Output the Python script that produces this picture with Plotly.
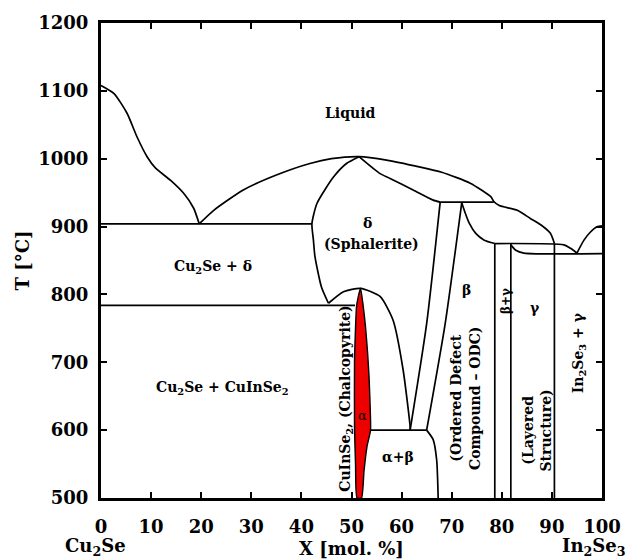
import plotly.graph_objects as go

# Cu2Se - In2Se3 pseudo-binary phase diagram
# X = mol. % In2Se3, T = temperature in deg C, read along each phase boundary

liq_cu2se_x = [0, 2.6, 5.2, 7.2, 9.2, 10.9, 13.9, 16.5, 18.5, 19.6]
liq_cu2se_t = [1108, 1096, 1067, 1032, 1003, 986, 968, 949, 927, 904]

liq_delta_x = [19.6, 22.5, 28.4, 35.0, 41.7, 46.0, 51.5, 57.0, 63.5, 68.0, 73.7, 77.8, 78.4, 79.5, 83.1, 85.7, 87.7, 89.7, 90.5]
liq_delta_t = [904, 924, 954, 976, 993, 1000, 1003, 998, 988, 980, 964, 944, 937, 931, 924, 912, 903, 890, 875]

delta_left_x = [51.5, 49.0, 46.4, 43.1, 42.1, 42.4, 42.7, 44.0, 45.4]
delta_left_t = [1003, 993, 973, 934, 904, 880, 856, 811, 787]

delta_right_x = [51.5, 55.7, 57.7, 62.3, 66.3, 67.7]
delta_right_t = [1003, 978, 971, 954, 939, 936]

eutectic_x = [0, 42.1]
eutectic_t = [904, 904]

eutectoid_x = [0, 50.7]
eutectoid_t = [784, 784]

alpha_dome_x = [45.4, 48.4, 51.8, 55.7, 58.3, 60.3, 61.7, 61.7]
alpha_dome_t = [787, 804, 809, 797, 762, 689, 605, 600]

delta_beta_x = [67.7, 65.0, 61.7]
delta_beta_t = [936, 757, 600]

beta_left_x = [72.0, 68.7, 65.0]
beta_left_t = [935, 757, 600]

beta_low_x = [65.0, 66.3, 67.0, 67.3]
beta_low_t = [600, 586, 556, 500]

alpha_beta_top_x = [53.7, 65.0]
alpha_beta_top_t = [600, 600]

peritectic_x = [67.7, 78.4]
peritectic_t = [936, 936]

beta_right_x = [72.0, 72.6, 73.5, 74.8, 76.5, 78.6]
beta_right_t = [935, 922, 905, 890, 880, 875]

line_875_x = [78.6, 92.4, 93.7, 95.0]
line_875_t = [875, 873, 868, 861]

liq_in2se3_x = [95.0, 96.4, 97.7, 99.0, 100]
liq_in2se3_t = [861, 880, 892, 899.6, 901]

line_860_x = [81.8, 82.8, 84.4, 100]
line_860_t = [873, 865, 861, 860]

vertical_x = [78.6, 81.8, 90.5]
vertical_top = 875
vertical_bottom = 500

# chalcopyrite (alpha) single-phase field
alpha_left_x = [51.8, 51.3, 51.0, 50.8, 50.6, 50.6, 50.8, 51.1]
alpha_left_t = [809, 795, 782, 750, 703, 605, 550, 500]
alpha_right_x = [52.0, 52.5, 53.1, 53.8, 53.7, 53.5, 53.2, 52.8, 52.3, 51.8]
alpha_right_t = [500, 540, 576, 600, 640, 679, 715, 752, 785, 809]

x_ticks = [0, 10, 20, 30, 40, 50, 60, 70, 80, 90, 100]
y_ticks = [500, 600, 700, 800, 900, 1000, 1100, 1200]

FONT = "DejaVu Serif"
LW = 1.7

fig = go.Figure()

# red alpha field
fig.add_trace(go.Scatter(
    x=alpha_left_x + alpha_right_x,
    y=alpha_left_t + alpha_right_t,
    mode="lines", fill="toself", fillcolor="#ee0000",
    line=dict(color="black", width=1.4, shape="spline", smoothing=0.5),
    hoverinfo="skip", showlegend=False,
))

curves = [
    (liq_cu2se_x, liq_cu2se_t, "spline"),
    (liq_delta_x, liq_delta_t, "spline"),
    (delta_left_x, delta_left_t, "spline"),
    (delta_right_x, delta_right_t, "spline"),
    (eutectic_x, eutectic_t, "linear"),
    (eutectoid_x, eutectoid_t, "linear"),
    (alpha_dome_x, alpha_dome_t, "spline"),
    (delta_beta_x, delta_beta_t, "spline"),
    (beta_left_x, beta_left_t, "spline"),
    (beta_low_x, beta_low_t, "spline"),
    (alpha_beta_top_x, alpha_beta_top_t, "linear"),
    (peritectic_x, peritectic_t, "linear"),
    (beta_right_x, beta_right_t, "spline"),
    (line_875_x, line_875_t, "spline"),
    (liq_in2se3_x, liq_in2se3_t, "spline"),
    (line_860_x, line_860_t, "spline"),
]
for xs, ts, shape in curves:
    fig.add_trace(go.Scatter(
        x=xs, y=ts, mode="lines",
        line=dict(color="black", width=LW, shape=shape, smoothing=0.6),
        hoverinfo="skip", showlegend=False,
    ))

for xv in vertical_x:
    fig.add_trace(go.Scatter(
        x=[xv, xv], y=[vertical_top, vertical_bottom], mode="lines",
        line=dict(color="black", width=LW),
        hoverinfo="skip", showlegend=False,
    ))

# phase field labels
labels = [
    (49.7, 1067, "Liquid", 0, 14),
    (53.2, 905, "δ", 0, 14),
    (54.0, 875, "(Sphalerite)", 0, 14),
    (22.4, 841, "Cu<sub>2</sub>Se + δ", 0, 14),
    (24.3, 662, "Cu<sub>2</sub>Se + CuInSe<sub>2</sub>", 0, 14),
    (49.0, 647, "CuInSe<sub>2</sub>, (Chalcopyrite)", -90, 14),
    (59.3, 561, "α+β", 0, 14),
    (73.0, 806, "β", 0, 14),
    (72.8, 647, "(Ordered Defect<br>Compound – ODC)", -90, 14),
    (80.8, 790, "β+γ", -90, 12),
    (86.6, 780, "γ", 0, 14),
    (87.1, 600, "(Layered<br>Structure)", -90, 14),
    (95.3, 714, "In<sub>2</sub>Se<sub>3</sub> + γ", -90, 14),
]
for x, t, txt, ang, size in labels:
    fig.add_annotation(
        x=x, y=t, text="<b>" + txt + "</b>", textangle=ang, showarrow=False,
        font=dict(family=FONT, size=size, color="black"),
    )

fig.add_annotation(
    x=52.1, y=622, text="α", showarrow=False,
    font=dict(family=FONT, size=13, color="black"),
)

# end-member compounds under the axis
fig.add_annotation(
    xref="paper", yref="paper", x=-0.01, y=-0.103, text="<b>Cu<sub>2</sub>Se</b>",
    showarrow=False, xanchor="center", yanchor="middle",
    font=dict(family=FONT, size=18, color="black"),
)
fig.add_annotation(
    xref="paper", yref="paper", x=0.985, y=-0.103, text="<b>In<sub>2</sub>Se<sub>3</sub></b>",
    showarrow=False, xanchor="center", yanchor="middle",
    font=dict(family=FONT, size=18, color="black"),
)

axis_common = dict(
    showline=True, linecolor="black", linewidth=3, mirror="ticks",
    ticks="inside", ticklen=6, tickwidth=2, tickcolor="black",
    showgrid=False, zeroline=False, automargin=False,
    tickfont=dict(family=FONT, size=18, color="black", weight="bold"),
)

fig.update_xaxes(
    range=[0, 100], tickvals=x_ticks, ticktext=[str(v) for v in x_ticks],
    title=dict(text="<b>X [mol. %]</b>", standoff=10,
               font=dict(family=FONT, size=18, color="black")),
    ticklabelstandoff=10,
    **axis_common,
)
fig.update_yaxes(
    range=[500, 1200], tickvals=y_ticks, ticktext=[str(v) for v in y_ticks],
    title=dict(text="<b>T [°C]</b>", standoff=4,
               font=dict(family=FONT, size=18, color="black")),
    ticklabelstandoff=6,
    **axis_common,
)

fig.update_layout(
    width=641, height=559,
    margin=dict(l=101, r=39, t=23, b=61),
    plot_bgcolor="white", paper_bgcolor="white",
    showlegend=False,
)

fig.write_html("out.html")
